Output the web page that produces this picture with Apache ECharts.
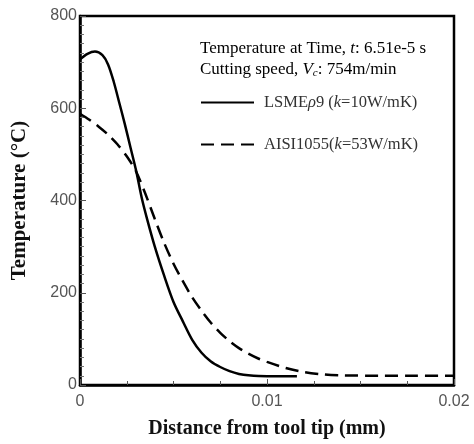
<!DOCTYPE html>
<html><head><meta charset="utf-8">
<script src="https://cdn.jsdelivr.net/npm/echarts@6/dist/echarts.min.js"></script>
<style>html,body{margin:0;padding:0;background:#fff}#c{width:474px;height:444px}</style>
</head><body><div id="c"></div>
<script>
var solidX = [0, 0.0004, 0.0008, 0.0012, 0.0015, 0.0018, 0.0021, 0.0024, 0.0027, 0.003, 0.0033, 0.0036, 0.004, 0.0045, 0.005, 0.0055, 0.006, 0.0065, 0.007, 0.0075, 0.008, 0.0085, 0.009, 0.01, 0.0116];
var solidY = [706, 718, 723, 715, 695, 658, 612, 565, 515, 465, 406, 358, 300, 237, 180, 138, 98, 70, 51, 39, 30, 24, 21, 19, 19];
var dashX = [0, 0.0005, 0.001, 0.0015, 0.002, 0.0025, 0.003, 0.0035, 0.004, 0.0045, 0.005, 0.0055, 0.006, 0.0065, 0.007, 0.0075, 0.008, 0.0085, 0.009, 0.0095, 0.01, 0.011, 0.012, 0.013, 0.014, 0.016, 0.018, 0.02];
var dashY = [588, 575, 560, 543, 522, 496, 463, 414, 360, 308, 263, 225, 190, 161, 135, 113, 95, 80, 68, 58, 50, 37, 28, 23, 21, 20, 20, 20];
var xTicks = [0, 0.01, 0.02];
var yTicks = [0, 200, 400, 600, 800];

function pairs(xs, ys){ return xs.map(function(x,i){ return [x, ys[i]]; }); }

var chart = echarts.init(document.getElementById('c'));
var serif = 'Liberation Serif';
var sans = 'Liberation Sans';
var rich = {
  n: {fontFamily: serif, fontSize: 17, color: '#333', lineHeight: 20},
  i: {fontFamily: serif, fontSize: 17, color: '#333', fontStyle: 'italic', lineHeight: 20},
  s: {fontFamily: serif, fontSize: 11, color: '#333', fontStyle: 'italic', lineHeight: 20, padding: [8,0,0,0]}
};
var richL = {
  n: {fontFamily: serif, fontSize: 16.5, color: '#333', lineHeight: 20},
  i: {fontFamily: serif, fontSize: 16.5, color: '#333', fontStyle: 'italic', lineHeight: 20}
};
chart.setOption({
  animation: false,
  grid: {left: 80, right: 20, top: 16, bottom: 54, show: true, borderColor: '#000', borderWidth: 2.5},
  xAxis: {
    type: 'value', min: xTicks[0], max: xTicks[xTicks.length-1], interval: 0.01,
    axisLine: {show: true, lineStyle: {color: '#000', width: 2.5}},
    axisTick: {show: true, inside: true, length: 6, lineStyle: {color: '#555', width: 1}},
    minorTick: {show: true, splitNumber: 4, length: 4, lineStyle: {color: '#555'}},
    splitLine: {show: false},
    axisLabel: {fontFamily: sans, fontSize: 16, color: '#555', margin: 9,
      formatter: function(v){ return v === 0 ? '0' : String(+v.toFixed(2)); }},
    name: 'Distance from tool tip (mm)', nameLocation: 'middle', nameGap: 34,
    nameTextStyle: {fontFamily: serif, fontWeight: 'bold', fontSize: 20, color: '#111'}
  },
  yAxis: {
    type: 'value', min: yTicks[0], max: yTicks[yTicks.length-1], interval: 200,
    axisLine: {show: true, lineStyle: {color: '#000', width: 2.5}},
    axisTick: {show: true, inside: true, length: 6, lineStyle: {color: '#555', width: 1}},
    minorTick: {show: true, splitNumber: 10, length: 4, lineStyle: {color: '#777'}},
    splitLine: {show: false},
    axisLabel: {fontFamily: sans, fontSize: 16, color: '#555', margin: 3},
    name: 'Temperature (°C)', nameLocation: 'middle', nameGap: 50,
    nameTextStyle: {fontFamily: serif, fontWeight: 'bold', fontSize: 21, color: '#111'}
  },
  legend: {
    orient: 'vertical', left: 200, top: 94, padding: 0, itemWidth: 53, itemHeight: 14, itemGap: 25,
    itemStyle: {opacity: 0, color: 'transparent', borderWidth: 0},
    textStyle: {rich: richL, padding: [0, 0, 0, 5]},
    formatter: function(name){
      if (name === 'LSME') return '{n|LSME}{i|ρ}{n|9 (}{i|k}{n|=10W/mK)}';
      return '{n|AISI1055(}{i|k}{n|=53W/mK)}';
    }
  },
  graphic: [
    {type: 'text', left: 200, top: 40, style: {rich: rich, text: '{n|Temperature at Time, }{i|t}{n|: 6.51e-5 s}'}},
    {type: 'text', left: 200, top: 60, style: {rich: rich, text: '{n|Cutting speed, }{i|V}{s|c}{n|: 754m/min}'}}
  ],
  series: [
    {name: 'LSME', type: 'line', data: pairs(solidX, solidY), smooth: 0.3, symbol: 'none', showSymbol: false,
      lineStyle: {color: '#000', width: 2.5, type: 'solid'}, itemStyle: {color: '#000'}},
    {name: 'AISI', type: 'line', data: pairs(dashX, dashY), smooth: 0.3, symbol: 'none', showSymbol: false,
      lineStyle: {color: '#000', width: 2.5, type: [13, 7]}, itemStyle: {color: '#000'}}
  ]
});
</script></body></html>
